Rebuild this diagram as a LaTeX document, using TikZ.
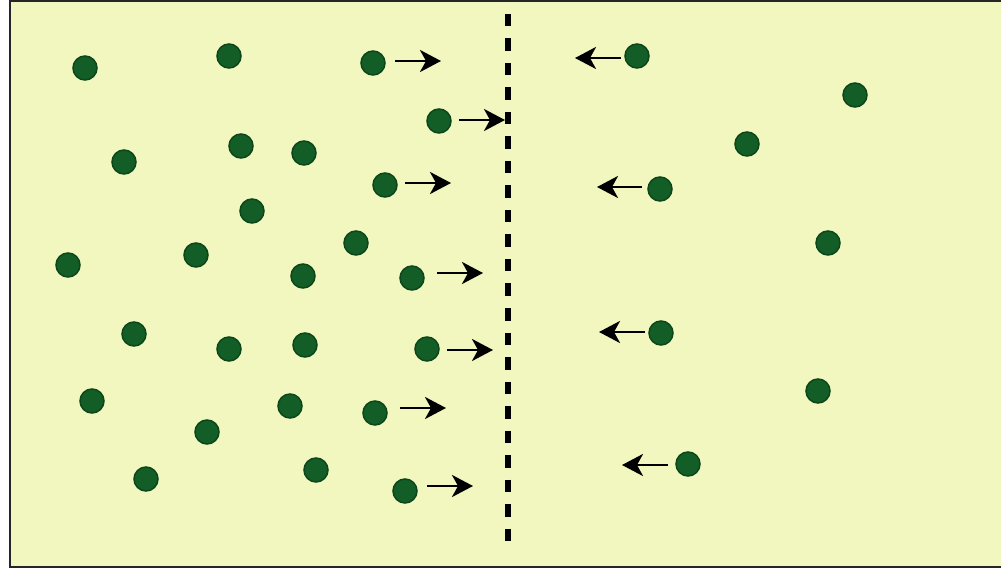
\documentclass[tikz,border=0pt]{standalone}
\usetikzlibrary{arrows.meta}
\definecolor{bgyellow}{RGB}{242,247,192}
\definecolor{pfill}{RGB}{19,94,38}
\definecolor{pdraw}{RGB}{12,70,26}
\begin{document}
\begin{tikzpicture}[x=1pt,y=-1pt,
  particle/.style={circle,fill=pfill,draw=pdraw,line width=1.5pt,minimum size=24pt,inner sep=0pt},
  motion/.style={line width=2.8pt,-{Stealth[length=21pt,width=22pt,inset=6pt]}},
  membrane/.style={line width=6.5pt,dash pattern=on 12.5pt off 12pt}]
\useasboundingbox (0,0) rectangle (1001,569);
\fill[white] (0,0) rectangle (1001,569);
\fill[bgyellow] (10,1) rectangle (1001,567);
\draw[line width=2.2pt,black!85] (1001,1) -- (10,1) -- (10,567) -- (1001,567);
\coordinate (mtop) at (508,14);
\coordinate (mbot) at (508,542);
\draw[membrane] (mtop) -- (mbot);
% still particles
\foreach \n/\x/\y in {a/85/68,b/229/56,c/124/162,d/241/146,e/304/153,f/252/211,
  g/68/265,h/196/255,i/356/243,j/303/276,k/134/334,l/229/349,m/305/345,
  n/92/401,o/207/432,p/290/406,q/146/479,r/316/470,
  s/855/95,t/747/144,u/828/243,v/818/391}
  \node[particle] (\n) at (\x,\y) {};
% moving particles with arrows
\foreach \n/\x/\y/\sx/\ex/\ay in {m1/373/63/395/441/61, m2/439/121/459/505/120,
  m3/385/185/405/451/183, m4/412/278/437/483/273, m5/427/349/447/493/350,
  m6/375/413/400/446/408, m7/405/491/427/473/486,
  m8/637/56/621/575/58, m9/660/189/642/597/187, m10/661/333/645/599/332,
  m11/688/464/668/622/465}
{
  \node[particle] (\n) at (\x,\y) {};
  \coordinate (\n s) at (\sx,\ay);
  \coordinate (\n e) at (\ex,\ay);
  \draw[motion] (\n s) -- (\n e);
}
\end{tikzpicture}
\end{document}
